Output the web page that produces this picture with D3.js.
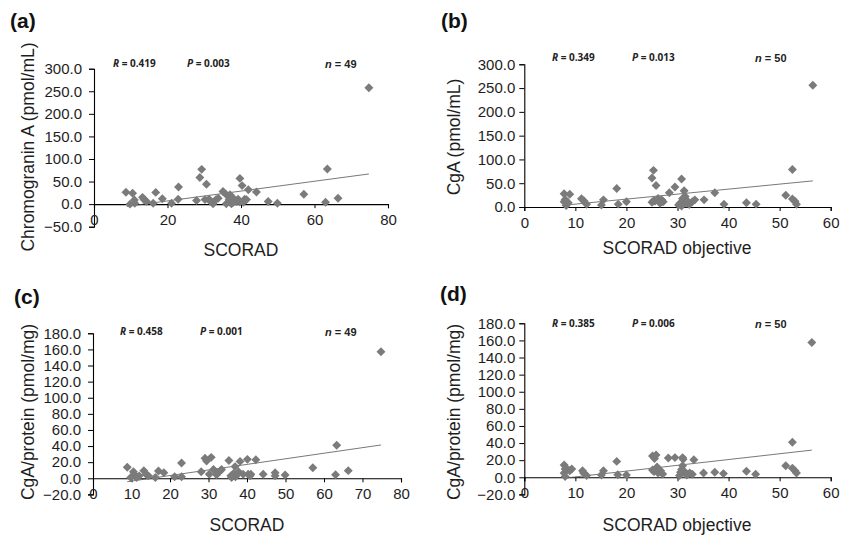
<!DOCTYPE html>
<html>
<head>
<meta charset="utf-8">
<script src="https://cdn.jsdelivr.net/npm/d3@7"></script>
<style>
  body { margin: 0; background: #fff; }
  svg { display: block; }
</style>
</head>
<body>
<div id="chart-area"></div>
<script>
// values
var aX = [8.7, 10.5, 9.8, 11.1, 11.0, 13.2, 13.6, 14.3, 16.1, 16.8, 18.6, 21.1, 22.9, 23.0, 27.9, 28.8, 29.3,
          30.6, 30.2, 31.3, 32.4, 33.2, 33.8, 35.1, 36.0, 36.0, 36.8, 37.0, 37.4, 37.9, 38.8, 39.7, 40.3, 39.7,
          40.6, 41.0, 42.0, 44.2, 47.4, 49.9, 57.1, 63.0, 63.5, 66.4, 74.8, 37.9, 39.2, 41.5, 31.7];
var aY = [26.5, 24, 0, 2, 9, 15, 10, 6, 2, 26, 12, 2, 11, 38, 8, 59, 77,
          44, 10, 11, 1, 10, 13, 28, 21, 1, 10, 21, 1, 13, 6, 57, 41, 5,
          4, 11, 32, 27, 6, 2, 22, 4, 78, 13, 258, 4, 11, 10, 6];

var bX = [7.8, 8.9, 7.8, 8.2, 8.6, 11.2, 11.7, 12.2, 15.1, 15.5, 18.1, 18.4, 20.0, 25.0, 25.3, 25.3, 25.8,
          25.6, 26.2, 26.9, 27.2, 28.4, 29.5, 30.8, 30.5, 30.8, 31.1, 31.3, 31.5, 31.8, 32.3, 32.9, 33.4, 35.2,
          37.3, 39.1, 43.5, 45.4, 51.2, 52.5, 52.5, 53.0, 53.3, 56.5, 25.0, 26.6, 30.2, 31.0, 32.0, 8.0];
var bY = [28, 27, 11, 3, 9, 17.5, 12.6, 5.6, 4, 15, 39, 6, 11, 61, 77, 12.6, 45,
          12.6, 18, 15, 11, 30, 42, 59, 8, 2, 15, 34, 22, 8, 5, 11, 15, 15,
          30, 5.6, 9, 6, 24.5, 79, 17, 12, 5.6, 256, 10, 8, 4, 18, 12, 16];

var cX = [8.9, 10.5, 10.9, 11.3, 13.2, 13.8, 14.4, 16.2, 17.0, 18.4, 21.2, 23.0, 23.0, 28.1, 29.1, 29.5, 30.7,
          30.2, 31.3, 32.1, 33.0, 33.4, 35.3, 35.8, 36.5, 36.9, 37.0, 37.5, 38.2, 39.0, 40.1, 40.3, 41.0, 42.3,
          44.2, 47.3, 47.3, 49.9, 57.1, 63.0, 63.3, 66.3, 74.8, 9.8, 12.0, 32.5, 36.0, 37.8, 40.8];
var cY = [13.6, 8, 4, 1, 9.5, 5, 3, 1, 9, 7, 2, 19, 2, 8, 25, 21.5, 26,
          5, 11, 4.5, 9, 11, 22, 3, 6, 14.5, 2, 5, 21, 5, 23.5, 5, 5, 23,
          5, 7, 3, 4, 13, 4.5, 41, 9.5, 157, 1, 3, 7, 1, 8, 3];

var dX = [7.8, 8.0, 7.8, 8.0, 8.9, 9.3, 11.4, 11.6, 12.2, 15.1, 15.5, 18.1, 18.3, 20.0, 25.1, 25.5, 25.8,
          25.1, 25.4, 25.9, 26.2, 26.7, 27.1, 28.2, 29.5, 31.0, 31.1, 30.4, 30.6, 31.0, 31.5, 32.0, 32.4, 32.9,
          33.2, 35.1, 37.3, 39.0, 43.5, 45.3, 51.2, 52.5, 52.5, 53.0, 53.3, 56.3, 8.2, 26.0, 30.8, 31.8];
var dY = [14.3, 9.7, 5, 1, 7.7, 9.7, 7.7, 5, 2, 2.7, 7.7, 18.6, 3, 2.7, 25, 22, 26,
          8.5, 6.6, 9.7, 5, 7.7, 3.9, 22.5, 23, 23, 21, 2, 5.8, 13.5, 5.8, 3.5, 5, 3.5,
          20.5, 5, 5.8, 4.3, 7, 3.5, 13.5, 41, 10.5, 7.7, 5, 157.5, 11, 12, 9, 2.5];

// trend lines: [slope, intercept], x from .. to
var fitSlope = [1.09, 1.05, 0.692, 0.676];
var fitIntercept = [-14.7, -4.4, -10.4, -6.3];
var fitFrom = [8.9, 8.0, 8.9, 7.6];
var fitTo = [74.8, 56.5, 74.8, 56.3];

var xTicksA = [0, 20, 40, 60, 80];
var xTicksC = [0, 10, 20, 30, 40, 50, 60, 70, 80];
var xTicksBD = [0, 10, 20, 30, 40, 50, 60];
var yTicksA = [-50, 0, 50, 100, 150, 200, 250, 300];
var yTicksB = [0, 50, 100, 150, 200, 250, 300];
var yTicksCD = [-20, 0, 20, 40, 60, 80, 100, 120, 140, 160, 180];

var panelTags = ["(a)", "(b)", "(c)", "(d)"];
var xTitles = ["SCORAD", "SCORAD objective", "SCORAD", "SCORAD objective"];
var yTitles = ["Chromogranin A (pmol/mL)", "CgA (pmol/mL)", "CgA/protein (pmol/mg)", "CgA/protein (pmol/mg)"];
var rVals = ["0.419", "0.349", "0.458", "0.385"];
var pVals = ["0.003", "0.013", "0.001", "0.006"];
var nVals = ["49", "50", "49", "50"];

// layout of each panel (pixels)
var layout = [
    {xs: aX, ys: aY, xd: [0, 80], xr: [94, 388], yd: [-50, 300], yr: [226.7, 68.7], xt: xTicksA, yt: yTicksA,
     tag: [10, 28], yTitle: [28, 147], xTitle: [241, 256], stat: [67, 113, 187, 325], ypad: 7},
    {xs: bX, ys: bY, xd: [0, 60], xr: [524.3, 830.7], yd: [0, 300], yr: [207, 64.3], xt: xTicksBD, yt: yTicksB,
     tag: [441, 28], yTitle: [454, 137], xTitle: [677, 254], stat: [61, 552, 632, 755], ypad: 4},
    {xs: cX, ys: cY, xd: [0, 80], xr: [93, 401], yd: [-20, 180], yr: [494.4, 333.3], xt: xTicksC, yt: yTicksCD,
     tag: [14, 304], yTitle: [28, 412], xTitle: [247, 531], stat: [335, 120, 200, 325], ypad: 7},
    {xs: dX, ys: dY, xd: [0, 60], xr: [524.3, 830.7], yd: [-20, 180], yr: [494.4, 323.3], xt: xTicksBD, yt: yTicksCD,
     tag: [440, 301], yTitle: [454, 412], xTitle: [677, 531], stat: [327, 552, 632, 755], ypad: 4}
];

var svg = d3.select("#chart-area").append("svg")
    .attr("width", 842)
    .attr("height", 539)
    .style("font-family", "'Liberation Sans', Arial, sans-serif");

svg.append("rect").attr("width", 842).attr("height", 539).attr("fill", "#fff");

var diamond = d3.symbol().type(d3.symbolSquare).size(40);

layout.forEach(function(p, i) {
    var g = svg.append("g");
    var x = d3.scaleLinear().domain(p.xd).range(p.xr);
    var y = d3.scaleLinear().domain(p.yd).range(p.yr);

    // y axis
    var yAxis = g.append("g")
        .attr("transform", "translate(" + p.xr[0] + ",0)")
        .call(d3.axisLeft(y).tickValues(p.yt).tickSize(5).tickPadding(p.ypad)
            .tickFormat(d3.format(".1f")));

    // x axis sits on y = 0
    var xAxis = g.append("g")
        .attr("transform", "translate(0," + y(0) + ")")
        .call(d3.axisBottom(x).tickValues(p.xt).tickSize(4).tickPadding(6));

    [yAxis, xAxis].forEach(function(ax) {
        ax.select(".domain").attr("stroke", "#000").attr("stroke-width", 1.1);
        ax.selectAll(".tick line").attr("stroke", "#000");
        ax.selectAll(".tick text")
            .attr("fill", "#1e1e1e")
            .style("font-size", "15px")
            .style("font-family", "'Liberation Sans', Arial, sans-serif");
    });

    // trend line
    g.append("line")
        .attr("x1", x(fitFrom[i]))
        .attr("y1", y(fitSlope[i] * fitFrom[i] + fitIntercept[i]))
        .attr("x2", x(fitTo[i]))
        .attr("y2", y(fitSlope[i] * fitTo[i] + fitIntercept[i]))
        .attr("stroke", "#555")
        .attr("stroke-width", 0.8);

    // points
    var pts = p.xs.map(function(v, k) { return {x: v, y: p.ys[k]}; });
    g.selectAll("path.pt")
        .data(pts)
        .enter()
        .append("path")
        .attr("class", "pt")
        .attr("d", diamond)
        .attr("transform", function(d) {
            return "translate(" + x(d.x) + "," + y(d.y) + ") rotate(45)";
        })
        .attr("fill", "#7b7b7b");

    // titles
    g.append("text")
        .attr("x", p.tag[0]).attr("y", p.tag[1])
        .style("font-size", "21px").style("font-weight", "bold")
        .attr("fill", "#111")
        .text(panelTags[i]);

    g.append("text")
        .attr("transform", "translate(" + p.yTitle[0] + "," + p.yTitle[1] + ") rotate(-90)")
        .attr("text-anchor", "middle")
        .attr("dy", "0.35em")
        .style("font-size", "17.5px")
        .attr("fill", "#1e1e1e")
        .text(yTitles[i]);

    g.append("text")
        .attr("x", p.xTitle[0]).attr("y", p.xTitle[1])
        .attr("text-anchor", "middle")
        .style("font-size", "17.5px")
        .attr("fill", "#1e1e1e")
        .text(xTitles[i]);

    // statistics
    var statFont = "'Open Sans', 'Noto Sans', sans-serif";
    var r = g.append("text").attr("x", p.stat[1]).attr("y", p.stat[0])
        .style("font-family", statFont).style("font-size", "10px").style("font-weight", "bold")
        .attr("fill", "#222");
    r.append("tspan").style("font-style", "italic").text("R");
    r.append("tspan").text(" = " + rVals[i]);

    var pv = g.append("text").attr("x", p.stat[2]).attr("y", p.stat[0])
        .style("font-family", statFont).style("font-size", "10px").style("font-weight", "bold")
        .attr("fill", "#222");
    pv.append("tspan").style("font-style", "italic").text("P");
    pv.append("tspan").text(" = " + pVals[i]);

    var n = g.append("text").attr("x", p.stat[3]).attr("y", p.stat[0] + 1)
        .style("font-size", "11px").style("font-weight", "bold")
        .attr("fill", "#222");
    n.append("tspan").style("font-style", "italic").text("n");
    n.append("tspan").text(" = " + nVals[i]);
});
</script>
</body>
</html>
